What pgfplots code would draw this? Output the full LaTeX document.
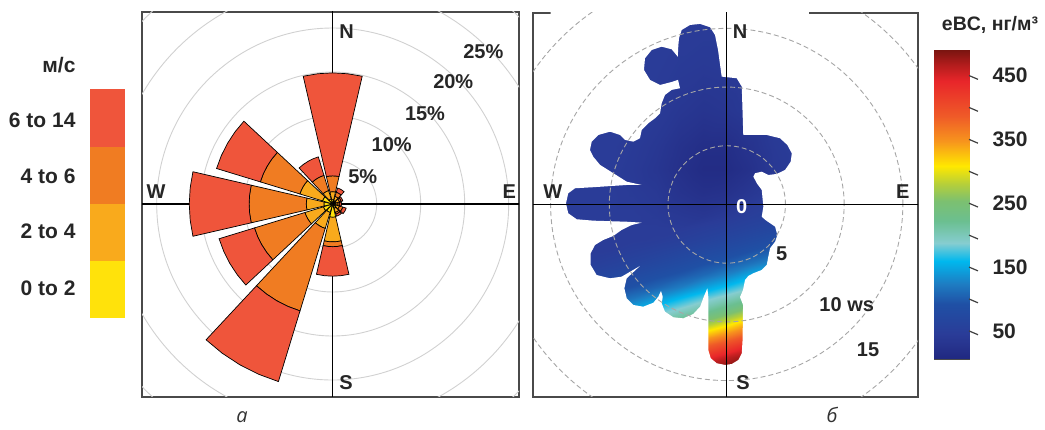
\documentclass[border=0pt]{standalone}
\usepackage{fontspec}
\setmainfont{Liberation Sans}
\newfontfamily\capfont{Open Sans}
\usepackage{pgfplots}
\pgfplotsset{compat=1.18}
\usepgfplotslibrary{polar}

\definecolor{wsA}{HTML}{FFE20B}
\definecolor{wsB}{HTML}{F9AA1C}
\definecolor{wsC}{HTML}{F07C22}
\definecolor{wsD}{HTML}{EF553B}
\definecolor{frame}{HTML}{4A4A4A}

\pgfplotsset{colormap={ebc}{rgb255(6pt)=(32,40,128) rgb255(25pt)=(38,50,140) rgb255(45pt)=(42,60,152)
    rgb255(92pt)=(31,80,165) rgb255(123pt)=(30,124,194) rgb255(160pt)=(0,184,238)
    rgb255(188pt)=(134,205,208) rgb255(222pt)=(107,191,144) rgb255(254pt)=(124,192,112)
    rgb255(280pt)=(181,207,58) rgb255(309pt)=(255,232,0) rgb255(348pt)=(247,148,29)
    rgb255(387pt)=(239,90,40) rgb255(442pt)=(232,38,42) rgb255(468pt)=(176,28,28)
    rgb255(490pt)=(122,21,16)}}

% one annular sector of the wind rose: #1 direction (deg from N), #2 r_in, #3 r_out (%), #4 colour
\newcommand{\sect}[4]{%
  \pgfmathsetmacro{\sA}{90-#1-13}%
  \pgfmathsetmacro{\sB}{90-#1-6.5}%
  \pgfmathsetmacro{\sC}{90-#1}%
  \pgfmathsetmacro{\sD}{90-#1+6.5}%
  \pgfmathsetmacro{\sE}{90-#1+13}%
  \addplot[draw=black, line width=0.7pt, fill=#4, data cs=polar] coordinates {(\sA,#2) (\sA,#3) (\sB,#3) (\sC,#3) (\sD,#3) (\sE,#3) (\sE,#2) (\sD,#2) (\sC,#2) (\sB,#2)} -- cycle;
}
% cumulative frequencies (%) of 0-2, 2-4, 4-6, 6-14 m/s for one direction
\newcommand{\petal}[5]{%
  \sect{#1}{0}{#2}{wsA}\sect{#1}{#2}{#3}{wsB}\sect{#1}{#3}{#4}{wsC}\sect{#1}{#4}{#5}{wsD}}

\begin{document}
\begin{tikzpicture}[x=1pt,y=1pt]
\path[use as bounding box] (0,0) rectangle (1045,430);

% ---------- legend of the wind rose ----------
\fill[wsD] (90,283.3) rectangle (125,340.7);
\fill[wsC] (90,226) rectangle (125,283.3);
\fill[wsB] (90,169) rectangle (125,226);
\fill[wsA] (90,111.7) rectangle (125,169);
\begin{scope}[every node/.style={anchor=east, font=\bfseries\fontsize{21}{21}\selectfont, text=black!85}]
\node at (79,365) {м/с};
\node at (79,310) {6 to 14};
\node at (79,253.3) {4 to 6};
\node at (79,198.3) {2 to 4};
\node at (79,141.7) {0 to 2};
\end{scope}

% ---------- a: wind rose ----------
\begin{axis}[at={(142pt,33pt)}, anchor=south west, scale only axis,
  width=377pt, height=385pt,
  xmin=-21.67, xmax=21.17, ymin=-21.93, ymax=21.82,
  xtick=\empty, ytick=\empty,
  axis line style={frame, line width=1.2pt}]
\draw[black!18, line width=0.9pt] (axis cs:0,0) circle[radius=5];
\draw[black!18, line width=0.9pt] (axis cs:0,0) circle[radius=10];
\draw[black!18, line width=0.9pt] (axis cs:0,0) circle[radius=15];
\draw[black!18, line width=0.9pt] (axis cs:0,0) circle[radius=20];
\draw[black!18, line width=0.9pt] (axis cs:0,0) circle[radius=25];
\draw[black!18, line width=0.9pt] (axis cs:0,0) circle[radius=30];
\draw[black, line width=1.2pt] (axis cs:0,-30) -- (axis cs:0,30);
\draw[black, line width=1.2pt] (axis cs:-30,0) -- (axis cs:30,0);
\petal{0}{0.5}{1.4}{3.2}{14.9}
\petal{30}{0.4}{0.9}{1.4}{1.9}
\petal{60}{0.4}{0.8}{1.0}{1.2}
\petal{90}{0.3}{0.6}{0.8}{1.0}
\petal{120}{0.4}{0.8}{1.2}{1.6}
\petal{150}{0.5}{1.0}{1.2}{1.45}
\petal{180}{1.5}{4.3}{4.85}{8.2}
\petal{210}{1.0}{2.9}{12.7}{21.1}
\petal{240}{1.1}{3.3}{9.3}{13.5}
\petal{270}{1.0}{3.0}{9.5}{16.3}
\petal{300}{1.2}{3.9}{8.6}{13.8}
\petal{330}{0.6}{1.6}{3.4}{5.6}
\begin{scope}[every node/.style={font=\bfseries\fontsize{20}{20}\selectfont, text=black!85}]
\node at (axis cs:3.41,3.10) {5\%};
\node at (axis cs:6.70,6.70) {10\%};
\node at (axis cs:10.49,10.31) {15\%};
\node at (axis cs:13.70,13.90) {20\%};
\node at (axis cs:17.11,17.31) {25\%};
\node at (axis cs:1.59,19.58) {N};
\node at (axis cs:1.51,-20.34) {S};
\node at (axis cs:-20.08,1.40) {W};
\node at (axis cs:20.07,1.40) {E};
\end{scope}
\end{axis}

% ---------- b: polar plot ----------
\begin{axis}[at={(533pt,33pt)}, anchor=south west, scale only axis,
  width=385pt, height=384pt,
  xmin=-16.5, xmax=16.29, ymin=-16.4, ymax=16.31,
  xtick=\empty, ytick=\empty,
  axis line style={frame, line width=1.2pt},
  colormap name=ebc, point meta min=6, point meta max=490]
\addplot[surf, shader=interp, mesh/cols=11, point meta=\thisrow{v}] table {
x y v
-14 16 45
-12 16 45
-10 16 45
-8 16 45
-6 16 45
-4 16 45
-2 16 45
0 16 45
2 16 45
4 16 45
6 16 45
-14 12 45
-12 12 45
-10 12 45
-8 12 45
-6 12 45
-4 12 42
-2 12 40
0 12 42
2 12 45
4 12 45
6 12 45
-14 8 45
-12 8 45
-10 8 45
-8 8 45
-6 8 42
-4 8 35
-2 8 30
0 8 33
2 8 40
4 8 45
6 8 45
-14 5 45
-12 5 45
-10 5 45
-8 5 42
-6 5 36
-4 5 25
-2 5 18
0 5 18
2 5 28
4 5 40
6 5 45
-14 3 45
-12 3 45
-10 3 45
-8 3 40
-6 3 33
-4 3 22
-2 3 14
0 3 14
2 3 23
4 3 38
6 3 45
-14 1 45
-12 1 45
-10 1 45
-8 1 42
-6 1 38
-4 1 28
-2 1 22
0 1 25
2 1 35
4 1 45
6 1 45
-14 -1 45
-12 -1 45
-10 -1 45
-8 -1 45
-6 -1 42
-4 -1 38
-2 -1 35
0 -1 42
2 -1 51
4 -1 57
6 -1 64
-14 -2 45
-12 -2 45
-10 -2 45
-8 -2 45
-6 -2 45
-4 -2 44
-2 -2 49
0 -2 55
2 -2 62
4 -2 70
6 -2 78
-14 -3 45
-12 -3 45
-10 -3 45
-8 -3 45
-6 -3 47
-4 -3 53
-2 -3 60
0 -3 68
2 -3 76
4 -3 85
6 -3 95
-14 -4 45
-12 -4 45
-10 -4 46
-8 -4 52
-6 -4 58
-4 -4 66
-2 -4 74
0 -4 82
2 -4 92
4 -4 104
6 -4 120
-14 -5 45
-12 -5 50
-10 -5 56
-8 -5 63
-6 -5 71
-4 -5 80
-2 -5 90
0 -5 100
2 -5 115
4 -5 134
6 -5 156
-14 -6 54
-12 -6 61
-10 -6 69
-8 -6 78
-6 -6 87
-4 -6 97
-2 -6 110
0 -6 128
2 -6 151
4 -6 170
6 -6 190
-14 -7 67
-12 -7 75
-10 -7 84
-8 -7 94
-6 -7 106
-4 -7 123
-2 -7 145
0 -7 165
2 -7 185
4 -7 203
6 -7 225
-14 -8 81
-12 -8 91
-10 -8 102
-8 -8 118
-6 -8 138
-4 -8 160
-2 -8 179
0 -8 198
2 -8 218
4 -8 244
6 -8 276
-14 -9 99
-12 -9 113
-10 -9 132
-8 -9 154
-6 -9 174
-4 -9 193
-2 -9 212
0 -9 235
2 -9 267
4 -9 303
6 -9 338
-14 -10 126
-12 -10 149
-10 -10 168
-8 -10 188
-6 -10 207
-4 -10 229
-2 -10 258
0 -10 292
2 -10 329
4 -10 362
6 -10 394
-14 -11 163
-12 -11 183
-10 -11 201
-8 -11 222
-6 -11 249
-4 -11 282
-2 -11 320
0 -11 352
2 -11 386
4 -11 417
6 -11 448
-14 -12 196
-12 -12 216
-10 -12 240
-8 -12 273
-6 -12 309
-4 -12 343
-2 -12 377
0 -12 408
2 -12 439
4 -12 466
6 -12 485
-14 -13 233
-12 -13 263
-10 -13 299
-8 -13 335
-6 -13 368
-4 -13 400
-2 -13 431
0 -13 460
2 -13 482
4 -13 490
6 -13 490
-14 -14 288
-12 -14 326
-10 -14 360
-8 -14 391
-6 -14 421
-4 -14 450
-2 -14 474
0 -14 488
2 -14 490
4 -14 490
6 -14 490
};
% white mask: everything of the surface that lies outside the measured area
\addplot[fill=white, draw=none, even odd rule, unbounded coords=jump] coordinates {
(-15,-15) (7,-15) (7,17) (-15,17) (nan,nan)
(-0.43,10.89) (0.85,10.75) (1.28,10.04) (1.41,5.92) (3.41,5.92) (4.54,5.64) (5.16,5.07) (5.54,4.36) (5.45,3.65) (4.97,2.94) (4.26,2.60) (3.54,2.51) (2.98,2.79) (2.41,2.66) (2.27,2.37) (2.56,1.81) (2.98,1.24) (3.12,-0.19) (2.98,-1.04) (3.29,-1.32) (4.12,-1.89) (4.31,-2.60) (4.12,-3.17) (3.69,-3.73) (3.54,-4.45) (3.41,-5.15) (2.98,-5.58) (2.27,-5.86) (1.84,-6.09) (1.56,-6.43) (1.39,-7.28) (1.13,-7.88) (1.39,-8.56) (1.35,-11.54) (1.28,-12.68) (0.99,-13.25) (0.43,-13.59) (-0.14,-13.67) (-0.85,-13.53) (-1.36,-13.10) (-1.57,-12.40) (-1.57,-8.99) (-1.57,-7.86) (-1.65,-7.14) (-1.93,-7.80) (-2.27,-8.71) (-2.85,-9.33) (-3.70,-9.70) (-4.55,-9.61) (-5.26,-9.13) (-5.54,-8.42) (-5.45,-7.86) (-5.60,-7.37) (-5.83,-7.86) (-6.25,-8.37) (-7.11,-8.71) (-7.96,-8.56) (-8.52,-7.99) (-8.72,-7.14) (-8.52,-6.29) (-7.39,-5.24) (-8.95,-6.15) (-9.94,-6.29) (-11.08,-6.01) (-11.59,-5.15) (-11.59,-4.16) (-11.22,-3.45) (-10.51,-3.02) (-9.66,-2.68) (-8.95,-2.17) (-8.09,-1.75) (-7.24,-1.55) (-8.52,-1.47) (-11.37,-1.38) (-12.78,-1.26) (-13.50,-0.75) (-13.69,0.10) (-13.50,0.95) (-12.92,1.38) (-11.37,1.47) (-8.52,1.66) (-7.24,1.66) (-8.52,1.94) (-9.66,2.66) (-10.79,3.37) (-11.37,4.07) (-11.65,4.64) (-11.50,5.35) (-10.94,5.92) (-9.94,6.20) (-9.09,5.92) (-8.66,5.50) (-7.96,5.35) (-7.39,5.64) (-7.24,6.35) (-6.68,6.92) (-6.11,7.34) (-5.68,7.77) (-5.54,8.62) (-5.26,9.33) (-4.69,9.76) (-3.98,9.90) (-4.15,10.61) (-4.66,10.44) (-5.68,10.18) (-6.53,10.61) (-7.05,11.46) (-6.96,12.46) (-6.39,13.16) (-5.54,13.44) (-4.69,13.22) (-4.17,12.59) (-4.12,13.59) (-4.06,14.19) (-3.83,14.87) (-3.13,15.29) (-2.27,15.38) (-1.42,15.10) (-1.00,14.44) (-0.74,13.16)
};
\draw[black!35, dash pattern=on 5pt off 3pt, line width=0.9pt] (axis cs:0,0) circle[radius=5];
\draw[black!35, dash pattern=on 5pt off 3pt, line width=0.9pt] (axis cs:0,0) circle[radius=10];
\draw[black!35, dash pattern=on 5pt off 3pt, line width=0.9pt] (axis cs:0,0) circle[radius=15];
\draw[black!35, dash pattern=on 5pt off 3pt, line width=0.9pt] (axis cs:0,0) circle[radius=20];
\draw[black, line width=1.3pt] (axis cs:0,-20) -- (axis cs:0,20);
\draw[black, line width=1.3pt] (axis cs:-20,0) -- (axis cs:20,0);
\begin{scope}[every node/.style={font=\bfseries\fontsize{20}{20}\selectfont, text=black!85}]
\node at (axis cs:1.13,14.72) {N};
\node at (axis cs:1.39,-15.20) {S};
\node at (axis cs:-14.82,1.09) {W};
\node at (axis cs:14.99,1.09) {E};
\node[text=white] at (axis cs:1.28,-0.21) {0};
\node at (axis cs:4.68,-4.22) {5};
\node at (axis cs:10.22,-8.56) {10 ws};
\node at (axis cs:12.04,-12.39) {15};
\end{scope}
\end{axis}

% ---------- colour scale of b ----------
\begin{axis}[at={(934pt,71pt)}, anchor=south west, scale only axis,
  width=35pt, height=309pt, xmin=0, xmax=1, ymin=6, ymax=490,
  xtick=\empty, ytick=\empty, clip=false,
  axis line style={black!70, line width=0.8pt},
  colormap name=ebc, point meta min=6, point meta max=490]
\addplot[surf, shader=interp, mesh/cols=2, point meta=\thisrow{v}] table {
x y v
0 6 6
1 6 6
0 25 25
1 25 25
0 45 45
1 45 45
0 92 92
1 92 92
0 123 123
1 123 123
0 160 160
1 160 160
0 188 188
1 188 188
0 222 222
1 222 222
0 254 254
1 254 254
0 280 280
1 280 280
0 309 309
1 309 309
0 348 348
1 348 348
0 387 387
1 387 387
0 442 442
1 442 442
0 468 468
1 468 468
0 490 490
1 490 490
};
\draw[black!75, line width=1.2pt] (axis cs:1,50) -- ++(9pt,0);
\draw[black!75, line width=1.2pt] (axis cs:1,100) -- ++(9pt,0);
\draw[black!75, line width=1.2pt] (axis cs:1,150) -- ++(9pt,0);
\draw[black!75, line width=1.2pt] (axis cs:1,200) -- ++(9pt,0);
\draw[black!75, line width=1.2pt] (axis cs:1,250) -- ++(9pt,0);
\draw[black!75, line width=1.2pt] (axis cs:1,300) -- ++(9pt,0);
\draw[black!75, line width=1.2pt] (axis cs:1,350) -- ++(9pt,0);
\draw[black!75, line width=1.2pt] (axis cs:1,400) -- ++(9pt,0);
\draw[black!75, line width=1.2pt] (axis cs:1,450) -- ++(9pt,0);
\begin{scope}[every node/.style={anchor=west, xshift=20pt, font=\bfseries\fontsize{21}{21}\selectfont, text=black!85}]
\node at (axis cs:1,50) {50};
\node at (axis cs:1,150) {150};
\node at (axis cs:1,250) {250};
\node at (axis cs:1,350) {350};
\node at (axis cs:1,450) {450};
\end{scope}
\end{axis}

\node[font=\bfseries\fontsize{19.5}{19.5}\selectfont, text=black!85] at (990,405) {eBC, нг/м³};
\node[anchor=base, font=\capfont\itshape\fontsize{20}{20}\selectfont, text=black!80] at (242,7) {а};
\node[anchor=base, font=\capfont\itshape\fontsize{20}{20}\selectfont, text=black!80] at (832,7) {б};
\end{tikzpicture}
\end{document}
